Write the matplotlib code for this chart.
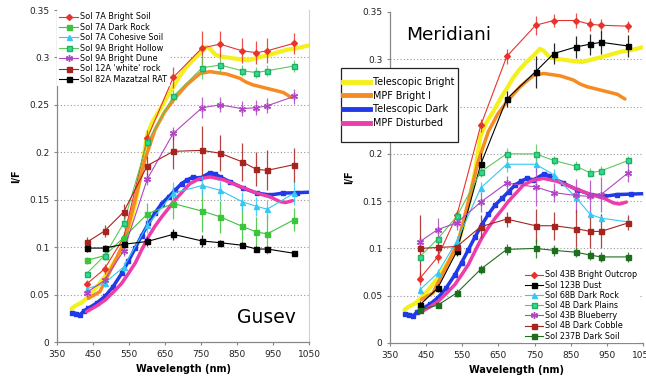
import matplotlib
matplotlib.use("Agg")
import matplotlib.pyplot as plt
from matplotlib.lines import Line2D
from matplotlib.patches import Rectangle

# ---------------- data ----------------
filters = [432, 482, 535, 601, 673, 753, 803, 864, 904, 934, 1009]

# Gusev (left)
gusev_labels = ["Sol 7A Bright Soil", "Sol 7A Dark Rock", "Sol 7A Cohesive Soil",
                "Sol 9A Bright Hollow", "Sol 9A Bright Dune", "Sol 12A 'white' rock",
                "Sol 82A Mazatzal RAT"]
bright_soil = [0.061, 0.077, 0.110, 0.215, 0.279, 0.310, 0.314, 0.307, 0.305, 0.307, 0.315]
bright_soil_err = [0.004, 0.005, 0.006, 0.008, 0.011, 0.018, 0.014, 0.013, 0.012, 0.013, 0.011]
dark_rock_7a = [0.086, 0.091, 0.110, 0.135, 0.146, 0.138, 0.132, 0.122, 0.116, 0.114, 0.129]
dark_rock_7a_err = [0.004, 0.005, 0.006, 0.012, 0.016, 0.022, 0.017, 0.022, 0.016, 0.021, 0.012]
cohesive = [0.056, 0.062, 0.079, 0.123, 0.157, 0.165, 0.160, 0.148, 0.143, 0.140, 0.157]
cohesive_err = [0.003, 0.004, 0.005, 0.008, 0.012, 0.010, 0.010, 0.010, 0.010, 0.010, 0.013]
hollow = [0.072, 0.091, 0.125, 0.211, 0.259, 0.289, 0.292, 0.286, 0.284, 0.286, 0.291]
hollow_err = [0.003, 0.004, 0.005, 0.006, 0.007, 0.012, 0.008, 0.006, 0.006, 0.006, 0.006]
dune = [0.052, 0.065, 0.096, 0.172, 0.220, 0.247, 0.250, 0.246, 0.247, 0.249, 0.259]
dune_err = [0.003, 0.004, 0.005, 0.006, 0.007, 0.011, 0.008, 0.008, 0.008, 0.008, 0.008]
white_rock = [0.105, 0.117, 0.137, 0.186, 0.201, 0.202, 0.199, 0.190, 0.182, 0.181, 0.187]
white_rock_err = [0.006, 0.006, 0.008, 0.010, 0.019, 0.026, 0.019, 0.020, 0.018, 0.021, 0.018]
mazatzal = [0.099, 0.099, 0.103, 0.106, 0.1135, 0.1065, 0.1047, 0.102, 0.098, 0.098, 0.0935]
mazatzal_err = [0.004, 0.003, 0.004, 0.005, 0.006, 0.006, 0.003, 0.003, 0.003, 0.003, 0.002]

# Meridiani (right)
meridiani_labels = ["Sol 43B Bright Outcrop", "Sol 123B Dust", "Sol 68B Dark Rock",
                    "Sol 4B Dark Plains", "Sol 43B Blueberry", "Sol 4B Dark Cobble",
                    "Sol 237B Dark Soil"]
outcrop = [0.068, 0.091, 0.135, 0.230, 0.303, 0.336, 0.341, 0.341, 0.337, 0.336, 0.335]
outcrop_err = [0.007, 0.006, 0.006, 0.007, 0.008, 0.010, 0.007, 0.008, 0.007, 0.007, 0.006]
dust = [0.040, 0.058, 0.097, 0.189, 0.258, 0.287, 0.306, 0.313, 0.316, 0.318, 0.314]
dust_err = [0.004, 0.004, 0.005, 0.012, 0.008, 0.017, 0.011, 0.012, 0.011, 0.012, 0.012]
dark_rock_68b = [0.056, 0.074, 0.108, 0.164, 0.189, 0.189, 0.178, 0.154, 0.136, 0.132, 0.128]
dark_rock_68b_err = [0.004, 0.004, 0.005, 0.006, 0.008, 0.008, 0.006, 0.005, 0.004, 0.004, 0.004]
dark_plains = [0.091, 0.110, 0.134, 0.181, 0.200, 0.200, 0.193, 0.187, 0.180, 0.182, 0.193]
dark_plains_err = [0.004, 0.004, 0.005, 0.005, 0.006, 0.010, 0.005, 0.005, 0.005, 0.005, 0.005]
blueberry = [0.107, 0.120, 0.127, 0.149, 0.169, 0.165, 0.159, 0.156, 0.155, 0.157, 0.180]
blueberry_err = [0.005, 0.012, 0.008, 0.010, 0.008, 0.020, 0.010, 0.017, 0.017, 0.019, 0.010]
dark_cobble = [0.100, 0.101, 0.102, 0.123, 0.131, 0.124, 0.124, 0.121, 0.118, 0.118, 0.127]
dark_cobble_err = [0.035, 0.006, 0.005, 0.012, 0.008, 0.018, 0.015, 0.020, 0.018, 0.018, 0.008]
dark_soil = [0.035, 0.040, 0.053, 0.078, 0.099, 0.100, 0.098, 0.096, 0.093, 0.091, 0.091]
dark_soil_err = [0.003, 0.003, 0.004, 0.005, 0.006, 0.010, 0.006, 0.005, 0.005, 0.005, 0.005]

# Telescopic / MPF reference spectra
tel_labels = ["Telescopic Bright", "MPF Bright I", "Telescopic Dark", "MPF Disturbed"]
tb_wl = [390, 400, 420, 437, 460, 483, 505, 530, 550, 567, 585, 600, 615, 636, 655, 673, 690,
         710, 730, 747, 765, 775, 790, 803, 840, 881, 910, 932, 960, 988, 1020, 1053]
tb_val = [0.035, 0.038, 0.042, 0.048, 0.058, 0.069, 0.082, 0.097, 0.120, 0.146, 0.181, 0.218,
          0.232, 0.245, 0.258, 0.269, 0.280, 0.290, 0.298, 0.304, 0.311, 0.309, 0.303, 0.301,
          0.299, 0.297, 0.300, 0.302, 0.305, 0.308, 0.310, 0.313]
mb_wl = [437, 469, 492, 515, 539, 567, 594, 622, 648, 673, 710, 747, 775, 821, 858, 875, 895,
         932, 979, 1000]
mb_val = [0.046, 0.053, 0.0706, 0.088, 0.1075, 0.150, 0.192, 0.2235, 0.242, 0.255, 0.271,
          0.283, 0.285, 0.2825, 0.278, 0.274, 0.271, 0.2675, 0.263, 0.258]
td_wl = [391, 403, 414, 425, 437, 460, 483, 505, 530, 548, 567, 585, 604, 622, 641, 660, 678,
         696, 712, 729, 747, 775, 790, 803, 830, 868, 905, 942, 979, 1016, 1057]
td_val = [0.031, 0.030, 0.0285, 0.033, 0.0355, 0.041, 0.048, 0.058, 0.0724, 0.085, 0.0988,
          0.112, 0.125, 0.136, 0.146, 0.153, 0.160, 0.167, 0.171, 0.174, 0.1725, 0.1785, 0.177,
          0.174, 0.169, 0.162, 0.157, 0.155, 0.157, 0.1574, 0.158]
md_wl = [432, 460, 483, 505, 530, 548, 567, 585, 604, 622, 641, 660, 678, 700, 719, 745, 775,
         812, 858, 905, 942, 969, 985, 1004]
md_val = [0.032, 0.038, 0.044, 0.052, 0.062, 0.072, 0.083, 0.097, 0.111, 0.122, 0.132, 0.141,
          0.150, 0.159, 0.167, 0.172, 0.174, 0.171, 0.164, 0.157, 0.153, 0.148, 0.147, 0.149]

# ---------------- styles ----------------
RED = "#e8332c"
GREEN = "#3cc43a"
CYAN = "#35c8f2"
TEAL = "#2fdc95"
PURPLE = "#b046c2"
DRED = "#a52420"
BLACK = "#000000"
DGREEN = "#1e6e1e"

tel_styles = [dict(color="#f4f01c", lw=3.0), dict(color="#f58b22", lw=2.5),
              dict(color="#1f3ae6", lw=2.5, marker="s", ms=2.2),
              dict(color="#ee3ca8", lw=2.5)]


def style(color, marker, mfc=None, mec=None, ms=3.6):
    return dict(color=color, marker=marker, ms=ms,
                mfc=mfc if mfc else color, mec=mec if mec else color, lw=0.8)


ast = (6, 2, 0)
gusev_styles = [style(RED, "D", ms=3.0), style(GREEN, "s"), style(CYAN, "^"),
                style("#5cc85a", "s", mfc=TEAL, mec="#22b060"), style(PURPLE, ast, ms=5),
                style(DRED, "s"), style(BLACK, "s")]
meri_styles = [style(RED, "D", ms=3.0), style(BLACK, "s"), style(CYAN, "^"),
               style("#5cc85a", "s", mfc=TEAL, mec="#22b060"), style(PURPLE, ast, ms=5),
               style(DRED, "s"), style(DGREEN, "s")]

gusev_data = [(bright_soil, bright_soil_err), (dark_rock_7a, dark_rock_7a_err),
              (cohesive, cohesive_err), (hollow, hollow_err), (dune, dune_err),
              (white_rock, white_rock_err), (mazatzal, mazatzal_err)]
meri_data = [(outcrop, outcrop_err), (dust, dust_err), (dark_rock_68b, dark_rock_68b_err),
             (dark_plains, dark_plains_err), (blueberry, blueberry_err),
             (dark_cobble, dark_cobble_err), (dark_soil, dark_soil_err)]

W, H = 646, 382
fig = plt.figure(figsize=(W / 100, H / 100), dpi=100)
ax1 = fig.add_axes([57 / W, 1 - 342 / H, 252 / W, 332 / H])
ax2 = fig.add_axes([390 / W, 1 - 343 / H, 253 / W, 331 / H])


def setup(ax):
    ax.set_xlim(350, 1050)
    ax.set_ylim(0, 0.35)
    ax.set_xticks(range(350, 1051, 100))
    ax.set_yticks([0, 0.05, 0.1, 0.15, 0.2, 0.25, 0.3, 0.35])
    ax.set_yticklabels(["0", "0.05", "0.1", "0.15", "0.2", "0.25", "0.3", "0.35"])
    for y in [0.05, 0.1, 0.15, 0.2, 0.25, 0.3]:
        ax.axhline(y, color="#999999", lw=0.8, ls=(0, (1, 2)), zorder=0.5)
    ax.spines["top"].set_visible(False)
    ax.spines["right"].set_visible(False)
    for s in ["left", "bottom"]:
        ax.spines[s].set_color("#888888")
        ax.spines[s].set_linewidth(0.9)
    ax.tick_params(axis="both", labelsize=6.5, length=2.5, width=0.8, color="#888888",
                   pad=3, labelcolor="#222222")
    ax.set_xlabel("Wavelength (nm)", fontsize=7, fontweight="bold", labelpad=4)
    ax.set_ylabel("I/F", fontsize=7, fontweight="bold", labelpad=6)


def draw(ax, data, styles, labels):
    for (wl, val), st in zip([(tb_wl, tb_val), (mb_wl, mb_val), (td_wl, td_val),
                              (md_wl, md_val)], tel_styles):
        ax.plot(wl, val, zorder=2, solid_capstyle="round", **st)
    handles = []
    for (vals, errs), st, lab in zip(data, styles, labels):
        ax.errorbar(filters, vals, yerr=errs, fmt="none", ecolor=st["color"], elinewidth=0.9,
                    capsize=0, alpha=0.85, zorder=2.8)
        h, = ax.plot(filters, vals, label=lab, zorder=3, **st)
        handles.append(h)
    return handles


setup(ax1)
setup(ax2)
ax1.spines["right"].set_visible(True)
ax1.spines["right"].set_color("#d0d0d0")
h1 = draw(ax1, gusev_data, gusev_styles, gusev_labels)
h2 = draw(ax2, meri_data, meri_styles, meridiani_labels)

leg1 = ax1.legend(handles=h1, loc="upper left", bbox_to_anchor=(0.0, 1.0), fontsize=5.9,
                  frameon=True, facecolor="white", edgecolor="none", fancybox=False,
                  framealpha=1, borderpad=0.3, labelspacing=0.17, handlelength=2.3,
                  handletextpad=0.25, borderaxespad=0.0, numpoints=1)
leg1.set_zorder(5)
leg2 = ax2.legend(handles=h2, loc="lower right", bbox_to_anchor=(0.985, 0.0), fontsize=5.8,
                  frameon=True, facecolor="white", edgecolor="none", fancybox=False,
                  framealpha=1, borderpad=0.3, labelspacing=0.15, handlelength=2.3,
                  handletextpad=0.2, borderaxespad=0.0, numpoints=1)
leg2.set_zorder(5)

# framed box of the reference-spectra legend
box = Rectangle((341 / W, 1 - 142 / H), 117 / W, 74 / H, transform=fig.transFigure,
                facecolor="white", edgecolor="#222222", lw=0.9, zorder=9)
fig.patches.append(box)
tel_handles = [Line2D([], [], color=st["color"], lw=3.5) for st in tel_styles]
leg3 = fig.legend(handles=tel_handles, labels=tel_labels, loc="upper left",
                  bbox_to_anchor=(343 / W, 1 - 77 / H), fontsize=6.9, frameon=False,
                  borderpad=0.0, labelspacing=0.38, handlelength=2.8, handletextpad=0.31,
                  borderaxespad=0.0)
leg3.set_zorder(10)

ax1.text(933, 0.026, "Gusev", fontsize=13.5, ha="center", va="center", zorder=6)
ax2.text(512, 0.3257, "Meridiani", fontsize=13.3, ha="center", va="center", zorder=6)

fig.savefig("out.png", dpi=100)
